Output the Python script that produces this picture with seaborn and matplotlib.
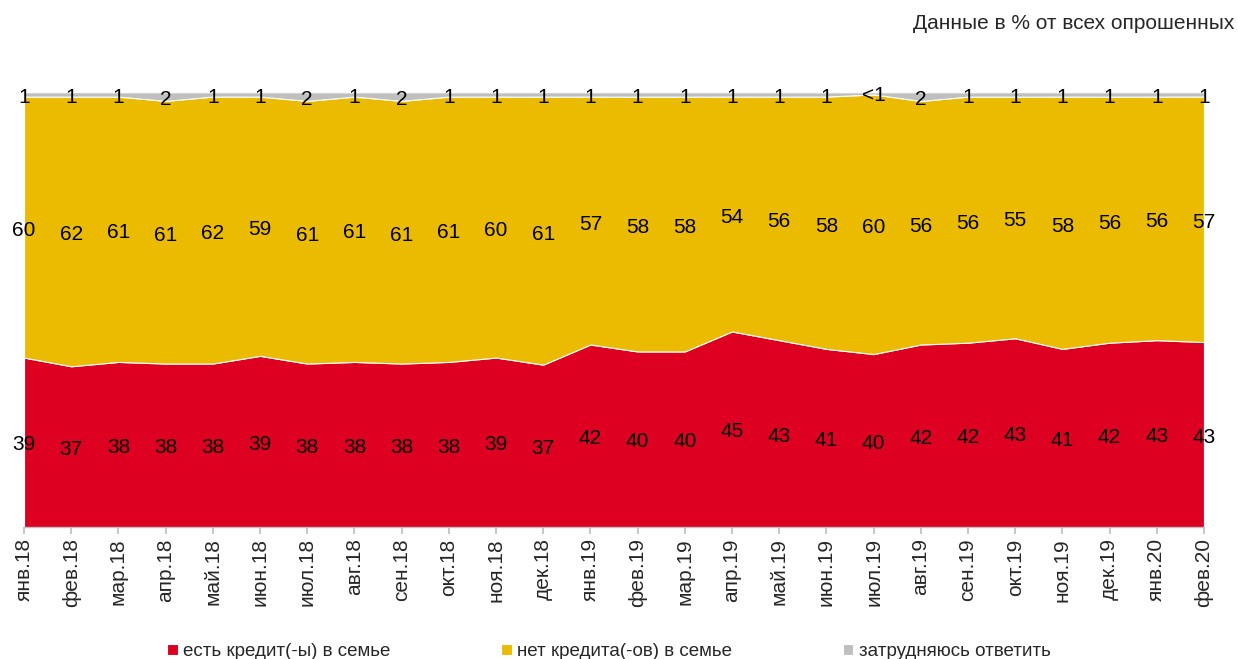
import numpy as np
import matplotlib
matplotlib.use('Agg')
import matplotlib.pyplot as plt
import seaborn as sns

# ─────────────────────────────────────────────
# данные
# ─────────────────────────────────────────────
months = ['янв.18', 'фев.18', 'мар.18', 'апр.18', 'май.18', 'июн.18', 'июл.18',
          'авг.18', 'сен.18', 'окт.18', 'ноя.18', 'дек.18', 'янв.19', 'фев.19',
          'мар.19', 'апр.19', 'май.19', 'июн.19', 'июл.19', 'авг.19', 'сен.19',
          'окт.19', 'ноя.19', 'дек.19', 'янв.20', 'фев.20']
has_credit = [39, 37, 38, 38, 38, 39, 38, 38, 38, 38, 39, 37, 42, 40, 40, 45,
              43, 41, 40, 42, 42, 43, 41, 42, 43, 43]
no_credit = [60, 62, 61, 61, 62, 59, 61, 61, 61, 61, 60, 61, 57, 58, 58, 54,
             56, 58, 60, 56, 56, 55, 58, 56, 56, 57]
hard_to_say = [1, 1, 1, 2, 1, 1, 2, 1, 2, 1, 1, 1, 1, 1, 1, 1, 1, 1, 0.5, 2,
               1, 1, 1, 1, 1, 1]
hard_labels = ['1', '1', '1', '2', '1', '1', '2', '1', '2', '1', '1', '1', '1',
               '1', '1', '1', '1', '1', '<1', '2', '1', '1', '1', '1', '1', '1']
series_names = ['есть кредит(-ы) в семье', 'нет кредита(-ов) в семье',
                'затрудняюсь ответить']

sns.set_theme(style='white')
plt.rcParams['font.family'] = ['Liberation Sans', 'DejaVu Sans']

colors = ['#DE0020', '#EABB00', '#BFBFBF']

red = np.array(has_credit, dtype=float)
yel = np.array(no_credit, dtype=float)
gry = np.array(hard_to_say, dtype=float)
tot = red + yel + gry
# нормируем до 100%
red_p, yel_p, gry_p = red / tot * 100, yel / tot * 100, gry / tot * 100

x = np.arange(len(months))
fig, ax = plt.subplots(figsize=(12.38, 6.59), dpi=100)
fig.subplots_adjust(left=0.0194, right=0.9725, top=0.86, bottom=0.2)

polys = ax.stackplot(x, red_p, yel_p, gry_p, colors=colors,
                     edgecolor='white', linewidth=0.8, labels=series_names)

for i in x:
    ax.text(i, red_p[i] / 2 - 0.6, str(has_credit[i]), ha='center',
            va='center', fontsize=15, color='black')
    ax.text(i, red_p[i] + yel_p[i] / 2 - 0.8, str(no_credit[i]), ha='center',
            va='center', fontsize=15, color='black')
    ax.text(i, red_p[i] + yel_p[i] + gry_p[i] / 2 - 0.6, hard_labels[i],
            ha='center', va='center', fontsize=15, color='black')

ax.set_xlim(0, len(months) - 1)
ax.set_ylim(0, 100)
ax.set_yticks([])
ax.set_xticks(x)
ax.set_xticklabels(months, rotation=90, fontsize=15)
ax.tick_params(axis='x', bottom=True, length=5, color='#BFBFBF', pad=3)
for s in ['top', 'right', 'left']:
    ax.spines[s].set_visible(False)
ax.spines['bottom'].set_color('#BFBFBF')
ax.spines['bottom'].set_linewidth(1)

fig.text(0.997, 0.965, 'Данные в % от всех опрошенных', ha='right',
         va='center', fontsize=15)

fig.legend(handles=polys, labels=series_names, loc='lower center',
           bbox_to_anchor=(0.492, -0.027), ncol=3, frameon=False,
           fontsize=13.5, handlelength=0.55, handleheight=0.55,
           handletextpad=0.3, columnspacing=5.9)

fig.savefig('out.png', dpi=100)
